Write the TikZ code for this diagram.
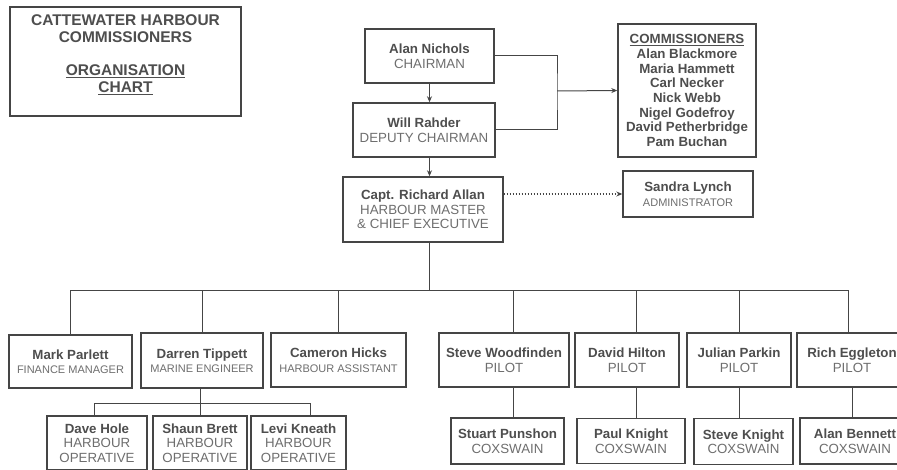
\documentclass[tikz,border=0pt]{standalone}
\usepackage{fontspec}
\setmainfont{Liberation Sans}
\usetikzlibrary{arrows.meta}

\definecolor{linegrey}{HTML}{454545}
\definecolor{namegrey}{HTML}{4E4E4E}
\definecolor{rolegrey}{HTML}{6E6E6E}
\newcommand{\nm}[1]{\textcolor{namegrey}{\textbf{#1}}}
\newcommand{\sm}{\fontsize{11}{13}\selectfont}

\begin{document}
\begin{tikzpicture}[
      x = 1pt, y = -1pt,
      font = \fontsize{13.3}{14.5}\selectfont,
      post/.style={
        draw = linegrey,
        line width = 1.4pt,
        fill = white,
        text = rolegrey,
        inner sep = 0pt,
        align = center,
      },
      link/.style={draw = linegrey, line width = 1pt},
      tip/.style={-{Stealth[length=6pt,width=5pt]}},
    ]
    \useasboundingbox (0,0) rectangle (897,470);

    % title
    \node[post, minimum width=231pt, minimum height=109pt] (titlebox) at (125.5,61.5) {};
    \node[text=namegrey, align=center, font=\fontsize{15.5}{17}\selectfont\bfseries]
      (title) at (125.5,55) {CATTEWATER HARBOUR\\COMMISSIONERS\\[16pt]
      \underline{ORGANISATION}\\\underline{CHART}};

    % board
    \node[post, minimum width=129pt, minimum height=54pt] (alan) at (429.5,56)
      {\nm{Alan Nichols}\\CHAIRMAN};
    \node[post, minimum width=142pt, minimum height=54pt] (will) at (424,130)
      {\nm{Will Rahder}\\DEPUTY CHAIRMAN};
    \node[post, minimum width=160pt, minimum height=65pt] (capt) at (423,209.5)
      {\nm{Capt. Richard Allan}\\HARBOUR MASTER\\\& CHIEF EXECUTIVE};
    \node[post, minimum width=138pt, minimum height=133pt, text=namegrey,
      font=\fontsize{13.3}{14.7}\selectfont\bfseries] (comm) at (687,90.5)
      {\underline{COMMISSIONERS}\\Alan Blackmore\\Maria Hammett\\Carl Necker\\
       Nick Webb\\Nigel Godefroy\\David Petherbridge\\Pam Buchan};
    \node[post, minimum width=130pt, minimum height=46pt] (sandra) at (688,194)
      {\nm{Sandra Lynch}\\\sm ADMINISTRATOR};

    % staff
    \node[post, minimum width=123pt, minimum height=53pt] (mark) at (70.5,361.5)
      {\nm{Mark Parlett}\\\sm FINANCE MANAGER};
    \node[post, minimum width=122pt, minimum height=55pt] (darren) at (202,360.5)
      {\nm{Darren Tippett}\\\sm MARINE ENGINEER};
    \node[post, minimum width=135pt, minimum height=54pt] (cameron) at (338.5,360)
      {\nm{Cameron Hicks}\\\sm HARBOUR ASSISTANT};
    \node[post, minimum width=130pt, minimum height=54pt] (stevew) at (504,360)
      {\nm{Steve Woodfinden}\\PILOT};
    \node[post, minimum width=104pt, minimum height=54pt] (david) at (627,360)
      {\nm{David Hilton}\\PILOT};
    \node[post, minimum width=104pt, minimum height=54pt] (julian) at (739,360)
      {\nm{Julian Parkin}\\PILOT};
    \node[post, minimum width=110pt, minimum height=54pt] (rich) at (852,360)
      {\nm{Rich Eggleton}\\PILOT};

    \node[post, minimum width=100pt, minimum height=54pt] (dave) at (97,443)
      {\nm{Dave Hole}\\HARBOUR\\OPERATIVE};
    \node[post, minimum width=94pt, minimum height=54pt] (shaun) at (200,443)
      {\nm{Shaun Brett}\\HARBOUR\\OPERATIVE};
    \node[post, minimum width=95pt, minimum height=54pt] (levi) at (298.5,443)
      {\nm{Levi Kneath}\\HARBOUR\\OPERATIVE};

    \node[post, minimum width=113pt, minimum height=46pt] (stuart) at (507.5,441)
      {\nm{Stuart Punshon}\\COXSWAIN};
    \node[post, minimum width=108pt, minimum height=45pt] (paul) at (631,441)
      {\nm{Paul Knight}\\COXSWAIN};
    \node[post, minimum width=99pt, minimum height=46pt] (stevek) at (743.5,441.5)
      {\nm{Steve Knight}\\COXSWAIN};
    \node[post, minimum width=110pt, minimum height=46pt] (alanb) at (855,441)
      {\nm{Alan Bennett}\\COXSWAIN};

    % connectors
    \coordinate (cj) at (557,91);
    \coordinate (bus) at (429,291);
    \coordinate (opbus) at (200,403);

    \draw[link, tip] (alan.south) -- (alan.south |- will.north);
    \draw[link, tip] (alan.south |- will.south) -- (alan.south |- capt.north);
    \draw[link] (alan.east) -| (cj) |- (will.east);
    \draw[link, tip] (cj) -- (comm.west);
    \draw[link, dotted, line width=1.3pt, tip] (capt.east |- sandra.west) -- (sandra.west);

    \draw[link] (capt.south -| bus) -- (bus);
    \draw[link] (mark.north) |- ([xshift=-4pt]rich.north |- bus) -- ([xshift=-4pt]rich.north);
    \foreach \p in {darren, cameron, julian}
      \draw[link] (\p.north) -- (\p.north |- bus);
    \draw[link] ([xshift=9pt]stevew.north) -- ([xshift=9pt]stevew.north |- bus);
    \draw[link] ([xshift=9pt]david.north) -- ([xshift=9pt]david.north |- bus);

    \draw[link] ([xshift=9pt]stevew.south) -- ([xshift=9pt]stevew.south |- stuart.north);
    \draw[link] ([xshift=9pt]david.south) -- ([xshift=9pt]david.south |- paul.north);
    \draw[link] (julian.south) -- (julian.south |- stevek.north);
    \draw[link] (rich.south) -- (rich.south |- alanb.north);

    \draw[link] (darren.south -| shaun) -- (shaun.north);
    \draw[link] ([xshift=-3pt]dave.north) |- ([xshift=11.5pt]levi.north |- opbus)
      -- ([xshift=11.5pt]levi.north);
  \end{tikzpicture}
\end{document}
